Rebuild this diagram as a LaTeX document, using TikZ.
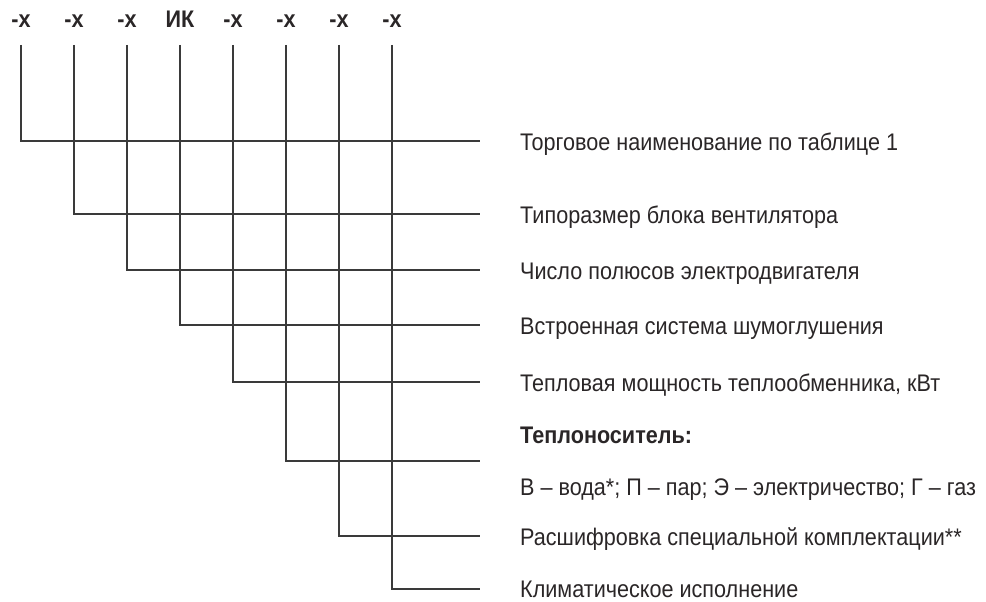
\documentclass[tikz,border=0pt]{standalone}
\usepackage{fontspec}
\setmainfont{Liberation Sans}[FakeStretch=0.9]
\definecolor{linecol}{HTML}{3A3A3A}
\definecolor{txtcol}{HTML}{2A2627}
\begin{document}
\begin{tikzpicture}[x=1pt,y=-1pt,
  ln/.style={draw=linecol, line width=1.2pt, line join=miter},
  lab/.style={anchor=base west, inner sep=0pt, text=txtcol, font=\fontsize{24}{28}\selectfont},
  toplab/.style={anchor=base, inner sep=0pt, text=txtcol, font=\bfseries\fontsize{24}{28}\selectfont}]
\useasboundingbox (0,0) rectangle (986,602);
% column positions and line levels
\foreach \i/\x/\y/\t in {1/21/141/-x, 2/74/214/-x, 3/127/270/-x, 4/180/325/ИК, 5/233/382/-x, 6/286/461/-x, 7/339/536/-x, 8/392/589/-x}{
  \node[toplab] (t\i) at (\x,28) {\t};
  \coordinate (top\i) at (\x,45);
  \coordinate (c\i) at (\x,\y);
  \coordinate (e\i) at (480,\y);
  \draw[ln] (top\i) -- (c\i) -- (e\i);
}
\node[lab] (l1) at (520,150) {Торговое наименование по таблице 1};
\node[lab] (l2) at (520,223) {Типоразмер блока вентилятора};
\node[lab] (l3) at (520,279) {Число полюсов электродвигателя};
\node[lab] (l4) at (520,334) {Встроенная система шумоглушения};
\node[lab] (l5) at (520,391) {Тепловая мощность теплообменника, кВт};
\node[lab, font=\bfseries\fontsize{24}{28}\selectfont] (l6a) at (520,443) {Теплоноситель:};
\node[lab] (l6b) at (520,495) {В – вода*; П – пар; Э – электричество; Г – газ};
\node[lab] (l7) at (520,545) {Расшифровка специальной комплектации**};
\node[lab] (l8) at (520,597) {Климатическое исполнение};
\end{tikzpicture}
\end{document}
